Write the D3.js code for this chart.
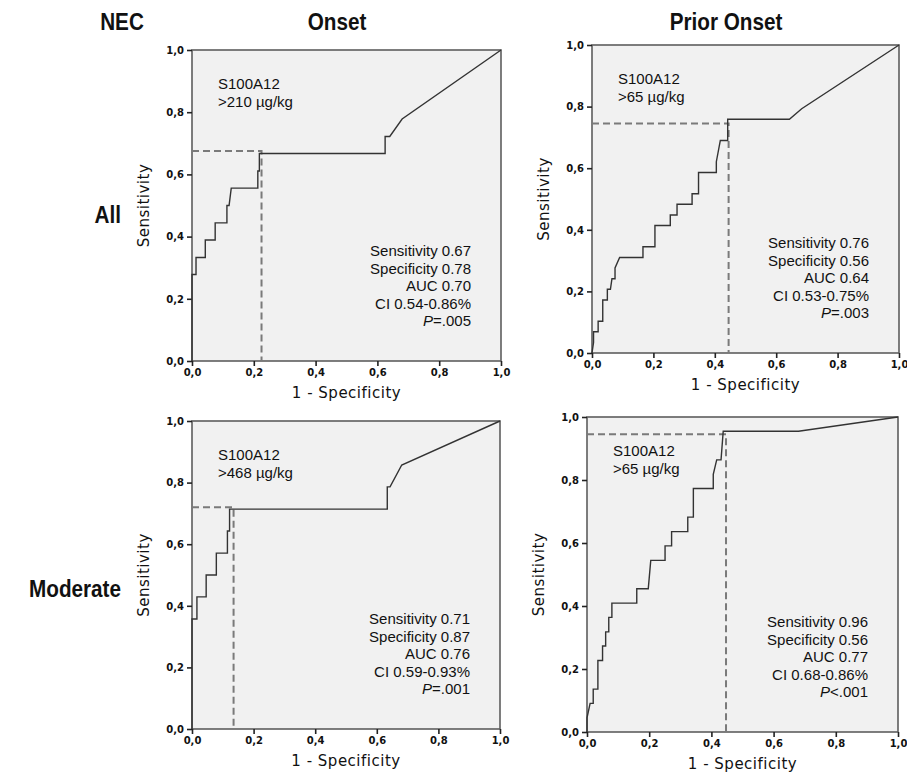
<!DOCTYPE html>
<html>
<head>
<meta charset="utf-8">
<script src="https://cdn.jsdelivr.net/npm/d3@7"></script>
<style>
  body { margin: 0; background: #fff; }
  text { fill: #111; }
</style>
</head>
<body>
<svg id="chart"></svg>
<script>
// ROC curve vertices [1 - specificity, sensitivity] per panel
var onsetAll = [[0,0],[0,0.278],[0.013,0.278],[0.013,0.333],[0.043,0.333],[0.043,0.389],[0.075,0.389],[0.075,0.444],
  [0.113,0.444],[0.113,0.5],[0.12,0.5],[0.127,0.556],[0.213,0.556],[0.213,0.611],[0.218,0.611],[0.218,0.667],
  [0.625,0.667],[0.625,0.722],[0.64,0.722],[0.68,0.778],[1,1]];
var priorAll = [[0,0],[0.005,0.034],[0.005,0.069],[0.02,0.069],[0.02,0.103],[0.035,0.103],[0.035,0.172],[0.05,0.172],
  [0.05,0.207],[0.06,0.207],[0.065,0.241],[0.075,0.241],[0.075,0.276],[0.09,0.31],[0.166,0.31],[0.166,0.345],
  [0.205,0.345],[0.205,0.414],[0.255,0.414],[0.255,0.448],[0.277,0.448],[0.277,0.483],[0.326,0.483],[0.326,0.517],
  [0.347,0.517],[0.347,0.586],[0.405,0.586],[0.405,0.621],[0.418,0.69],[0.442,0.69],[0.442,0.759],[0.643,0.759],
  [0.683,0.793],[1,1]];
var onsetMod = [[0,0],[0,0.357],[0.016,0.357],[0.016,0.429],[0.046,0.429],[0.046,0.5],[0.079,0.5],[0.079,0.571],
  [0.115,0.571],[0.115,0.643],[0.122,0.643],[0.122,0.714],[0.634,0.714],[0.634,0.786],[0.643,0.786],[0.681,0.857],[1,1]];
var priorMod = [[0,0],[0,0.045],[0.01,0.091],[0.02,0.091],[0.02,0.136],[0.035,0.136],[0.035,0.227],[0.05,0.227],
  [0.05,0.273],[0.06,0.273],[0.06,0.318],[0.07,0.318],[0.07,0.364],[0.08,0.364],[0.08,0.409],[0.16,0.409],[0.16,0.455],
  [0.197,0.455],[0.205,0.545],[0.251,0.545],[0.251,0.591],[0.272,0.591],[0.272,0.636],[0.324,0.636],[0.324,0.682],
  [0.342,0.682],[0.342,0.773],[0.406,0.773],[0.406,0.818],[0.417,0.864],[0.431,0.864],[0.438,0.955],[0.68,0.955],[1,1]];

// cut-off point [1 - specificity, sensitivity]
var cutoffs = [[0.225, 0.675], [0.445, 0.745], [0.135, 0.72], [0.447, 0.945]];
var cutLabels = [">210 µg/kg", ">65 µg/kg", ">468 µg/kg", ">65 µg/kg"];
var stats = [
  ["Sensitivity 0.67", "Specificity 0.78", "AUC 0.70", "CI 0.54-0.86%", "=.005"],
  ["Sensitivity 0.76", "Specificity 0.56", "AUC 0.64", "CI 0.53-0.75%", "=.003"],
  ["Sensitivity 0.71", "Specificity 0.87", "AUC 0.76", "CI 0.59-0.93%", "=.001"],
  ["Sensitivity 0.96", "Specificity 0.56", "AUC 0.77", "CI 0.68-0.86%", "<.001"]
];
var ticks = [0, 0.2, 0.4, 0.6, 0.8, 1.0];
var colTitles = ["Onset", "Prior Onset"];
var rowTitles = ["All", "Moderate"];

var width = 907, height = 775;

// frame of each panel in the figure (left, right, top, bottom)
var frames = [
  {x0: 192, x1: 501, y0: 50, y1: 361},
  {x0: 592, x1: 899, y0: 45, y1: 353},
  {x0: 192, x1: 500, y0: 421, y1: 729},
  {x0: 587, x1: 898, y0: 417, y1: 732}
];
var curves = [onsetAll, priorAll, onsetMod, priorMod];

var svg = d3.select("#chart")
  .attr("width", width)
  .attr("height", height)
  .style("font-family", "Liberation Sans, Arial, sans-serif");

var fmt = function(d) { return d3.format(".1f")(d).replace(".", ","); };

frames.forEach(function(f, i) {
  var x = d3.scaleLinear().domain([0, 1]).range([f.x0, f.x1]);
  var y = d3.scaleLinear().domain([0, 1]).range([f.y1, f.y0]);
  var g = svg.append("g");

  g.append("rect")
    .attr("x", f.x0).attr("y", f.y0)
    .attr("width", f.x1 - f.x0).attr("height", f.y1 - f.y0)
    .attr("fill", "#f1f1f1")
    .attr("stroke", "#5e5e5e")
    .attr("stroke-width", 1.6);

  var xAxis = g.append("g")
    .attr("transform", "translate(0," + f.y1 + ")")
    .call(d3.axisBottom(x).tickValues(ticks).tickFormat(fmt).tickSize(5).tickPadding(3));
  var yAxis = g.append("g")
    .attr("transform", "translate(" + f.x0 + ",0)")
    .call(d3.axisLeft(y).tickValues(ticks).tickFormat(fmt).tickSize(5).tickPadding(3));
  [xAxis, yAxis].forEach(function(a) {
    a.select(".domain").remove();
    a.selectAll("line").attr("stroke", "#222").attr("stroke-width", 1.6);
    a.selectAll("text")
      .style("font-family", "DejaVu Sans, Verdana, sans-serif")
      .style("font-weight", "bold")
      .style("font-size", "10px")
      .attr("fill", "#222");
  });

  // dashed cut-off lines
  var c = cutoffs[i];
  g.append("path")
    .attr("d", d3.line()([[x(0), y(c[1])], [x(c[0]), y(c[1])], [x(c[0]), y(0)]]))
    .attr("fill", "none")
    .attr("stroke", "#7a7a7a")
    .attr("stroke-width", 2)
    .attr("stroke-dasharray", "7,4");

  g.append("path")
    .datum(curves[i])
    .attr("d", d3.line().x(function(d) { return x(d[0]); }).y(function(d) { return y(d[1]); }))
    .attr("fill", "none")
    .attr("stroke", "#333")
    .attr("stroke-width", 1.4);

  // marker text
  var lab = g.append("text")
    .attr("x", f.x0 + 26)
    .attr("y", f.y0 + 39)
    .style("font-size", "15px");
  lab.append("tspan").text("S100A12");
  lab.append("tspan").attr("x", f.x0 + 26).attr("dy", 18).text(cutLabels[i]);

  var st = g.append("text")
    .attr("text-anchor", "end")
    .style("font-size", "15px");
  stats[i].forEach(function(s, k) {
    var t = st.append("tspan")
      .attr("x", f.x1 - 30)
      .attr("y", f.y1 - 35 - (4 - k) * 17.5);
    if (k == 4) {
      t.append("tspan").style("font-style", "italic").text("P");
      t.append("tspan").text(s);
    } else {
      t.text(s);
    }
  });

  // axis titles
  g.append("text")
    .attr("x", (f.x0 + f.x1) / 2)
    .attr("y", f.y1 + 37)
    .attr("text-anchor", "middle")
    .style("font-family", "DejaVu Sans, Verdana, sans-serif")
    .style("font-size", "15px")
    .style("letter-spacing", "0.5px")
    .text("1 - Specificity");
  g.append("text")
    .attr("transform", "translate(" + (f.x0 - 43) + "," + ((f.y0 + f.y1) / 2) + ") rotate(-90)")
    .attr("text-anchor", "middle")
    .style("font-family", "DejaVu Sans, Verdana, sans-serif")
    .style("font-size", "15px")
    .style("letter-spacing", "0.5px")
    .text("Sensitivity");
});

// headers (condensed bold look)
var head = svg.append("g")
  .style("font-weight", "bold")
  .style("font-size", "23px");
var heads = [
  {t: "NEC", x: 122, y: 30, a: "middle"},
  {t: colTitles[0], x: 337, y: 30, a: "middle"},
  {t: colTitles[1], x: 726, y: 30, a: "middle"},
  {t: rowTitles[0], x: 121, y: 223, a: "end"},
  {t: rowTitles[1], x: 121, y: 597, a: "end"}
];
heads.forEach(function(h) {
  head.append("text")
    .attr("transform", "translate(" + h.x + "," + h.y + ") scale(0.9,1)")
    .attr("text-anchor", h.a)
    .text(h.t);
});
</script>
</body>
</html>
